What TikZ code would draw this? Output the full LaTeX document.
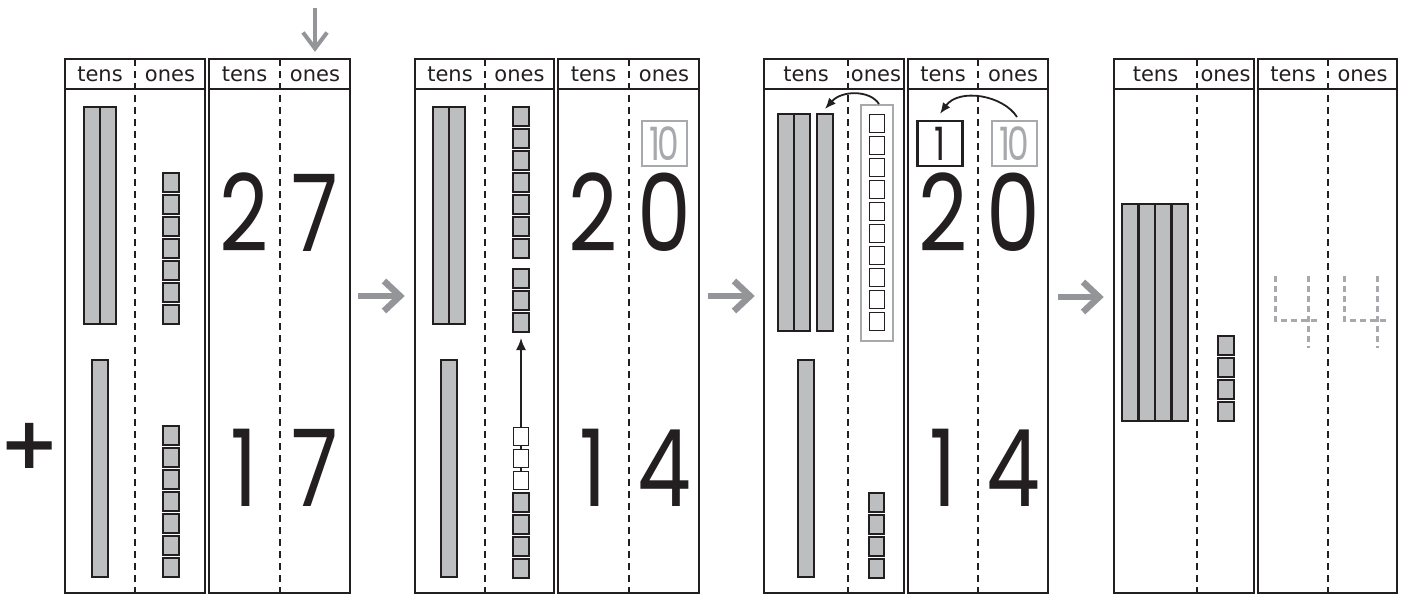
\documentclass[tikz,border=0pt]{standalone}
\usepackage{fontspec}
\setmainfont{DejaVu Sans}
\newfontfamily\digitfont{Poppins}[FakeStretch=0.8]
\newfontfamily\smalldigitfont{Poppins}[FakeStretch=0.75,LetterSpace=-6]
\usetikzlibrary{arrows.meta}
\definecolor{ink}{HTML}{231F20}
\definecolor{rodgray}{HTML}{BCBEC0}
\definecolor{softgray}{HTML}{A7A9AC}
\definecolor{arrowgray}{HTML}{939598}
\newcommand\cubecol[4]{%
  \foreach \k in {1,...,#3}{%
    \draw[#4] ({#1-7.8},{#2+1.2+22*(\k-1)}) rectangle ({#1+7.8},{#2+19.8+22*(\k-1)});
  }}
\newcommand\rodset[5]{%
  \foreach \k in {1,...,#2}{%
    \draw[rod] ({#1+#3*(\k-1)},#4) rectangle ({#1+#3*\k},#5);
  }}
\newcommand\pvpanel[7]{%
  \draw[divider] (#2,59) -- (#2,593);
  \draw[divider] (#5,59) -- (#5,593);
  \draw[frame] (#1,59) rectangle (#3,593);
  \draw[frame] (#1,89) -- (#3,89);
  \draw[frame] (#4,59) rectangle (#6,593);
  \draw[frame] (#4,89) -- (#6,89);
  \node[head] (#7a) at ({(#1+#2)/2},82) {tens};
  \node[head] (#7b) at ({(#2+#3)/2},82) {ones};
  \node[head] (#7c) at ({(#4+#5)/2},82) {tens};
  \node[head] (#7d) at ({(#5+#6)/2},82) {ones};
}
\begin{document}
\begin{tikzpicture}[x=1pt,y=-1pt,
  frame/.style={draw=ink,line width=2.2pt},
  divider/.style={draw=ink,line width=1.3pt,dash pattern=on 7pt off 5pt},
  rod/.style={draw=ink,fill=rodgray,line width=2.2pt},
  cube/.style={draw=ink,fill=rodgray,line width=2.2pt},
  wcube/.style={draw=ink,fill=white,line width=1.3pt},
  head/.style={font=\fontsize{21pt}{24pt}\selectfont,text=ink,inner sep=0pt,anchor=base},
  bigdigit/.style={font=\digitfont\fontsize{107pt}{110pt}\selectfont,text=ink,inner sep=0pt,anchor=base},
  graybox/.style={draw=softgray,line width=2pt,minimum width=45pt,minimum height=45pt,inner sep=0pt,text=softgray,font=\smalldigitfont\fontsize{46pt}{50pt}\selectfont},
  blackbox/.style={graybox,draw=ink,text=ink,line width=2.4pt},
  panelarrow/.style={draw=arrowgray,line width=6.5pt,line join=miter},
  curvearrow/.style={draw=ink,line width=1.8pt,-{Latex[length=11pt,width=9pt]}},
  tracefour/.style={draw=softgray,line width=3pt,dash pattern=on 6pt off 4pt}
]
\useasboundingbox (0,0) rectangle (1406,596);
% panels
\pvpanel{65}{135}{205}{209}{280}{350}{pa}
\pvpanel{415}{485}{554}{558}{629}{699}{pb}
\pvpanel{764}{848}{904}{908}{978}{1048}{pc}
\pvpanel{1114}{1197}{1254}{1258}{1328}{1397}{pd}
% top arrow
\coordinate (dtop) at (315,8);
\coordinate (dtip) at (315,48.5);
\draw[panelarrow,line width=4pt] (dtop) -- (dtip);
\draw[panelarrow,line width=4pt] (dtip) ++(-12,-16) -- (dtip) -- ++(12,-16);
% plus sign
\node[font=\bfseries\fontsize{72pt}{72pt}\selectfont,text=ink,inner sep=0pt] (plus) at (30,446) {+};
% ---- panel 1
\rodset{84}{2}{16}{107}{324}
\rodset{92}{1}{16}{360}{577}
\cubecol{171}{172}{7}{cube}
\cubecol{171}{425}{7}{cube}
\node[bigdigit] (n1a) at (244.5,252) {2};
\node[bigdigit] (n1b) at (315,252) {7};
\node[bigdigit] (n1c) at (244.5,506) {1};
\node[bigdigit] (n1d) at (315,506) {7};
% arrow 1
\coordinate (a1s) at (358,296);
\coordinate (a1t) at (400,296);
\draw[panelarrow] (a1s) -- (a1t);
\draw[panelarrow] (a1t) ++(-16,-15) -- (a1t) -- ++(-16,15);
% ---- panel 2
\rodset{433}{2}{16}{107}{324}
\rodset{441}{1}{16}{360}{577}
\cubecol{521}{106}{7}{cube}
\cubecol{521}{268}{3}{cube}
\draw[ink,line width=1.8pt,-{Latex[length=12pt,width=10pt]}] (521,480) -- (521,338);
\cubecol{521}{426}{3}{wcube}
\cubecol{521}{492}{4}{cube}
\node[graybox] (g2) at (664.5,143.5) {10};
\node[bigdigit] (n2a) at (593.5,252) {2};
\node[bigdigit] (n2b) at (664,252) {0};
\node[bigdigit] (n2c) at (593.5,506) {1};
\node[bigdigit] (n2d) at (664,506) {4};
% arrow 2
\coordinate (a2s) at (708,296);
\coordinate (a2t) at (750,296);
\draw[panelarrow] (a2s) -- (a2t);
\draw[panelarrow] (a2t) ++(-16,-15) -- (a2t) -- ++(-16,15);
% ---- panel 3
\rodset{778}{2}{16}{114}{331}
\rodset{817}{1}{16}{114}{331}
\rodset{798}{1}{16}{360}{577}
\node[draw=softgray,line width=2pt,minimum width=32pt,minimum height=236pt,inner sep=0pt] (tray) at (877,223) {};
\cubecol{877}{113}{10}{wcube}
\cubecol{876.5}{492}{4}{cube}
\coordinate (rodtop) at (825,109);
\draw[curvearrow] ([xshift=2pt]tray.north) .. controls +(-9,-14) and +(17,-19) .. (rodtop);
\node[blackbox] (b3) at (940,143.5) {1};
\node[graybox] (g3) at (1014.5,143.5) {10};
\draw[curvearrow] ([xshift=2.5pt,yshift=3pt]g3.north) .. controls +(-14,-22) and +(19,-26) .. ([yshift=6pt]b3.north);
\node[bigdigit] (n3a) at (943,252) {2};
\node[bigdigit] (n3b) at (1013,252) {0};
\node[bigdigit] (n3c) at (943,506) {1};
\node[bigdigit] (n3d) at (1013,506) {4};
% arrow 3
\coordinate (a3s) at (1058,297);
\coordinate (a3t) at (1099,297);
\draw[panelarrow] (a3s) -- (a3t);
\draw[panelarrow] (a3t) ++(-16,-15) -- (a3t) -- ++(-16,15);
% ---- panel 4
\rodset{1122}{4}{16.5}{204}{421}
\cubecol{1226}{335}{4}{cube}
\draw[tracefour] (1275,276) -- (1275,320) -- (1318,320);
\draw[tracefour] (1308,276) -- (1308,348);
\draw[tracefour] (1344,276) -- (1344,320) -- (1387,320);
\draw[tracefour] (1377,276) -- (1377,348);
\end{tikzpicture}
\end{document}
